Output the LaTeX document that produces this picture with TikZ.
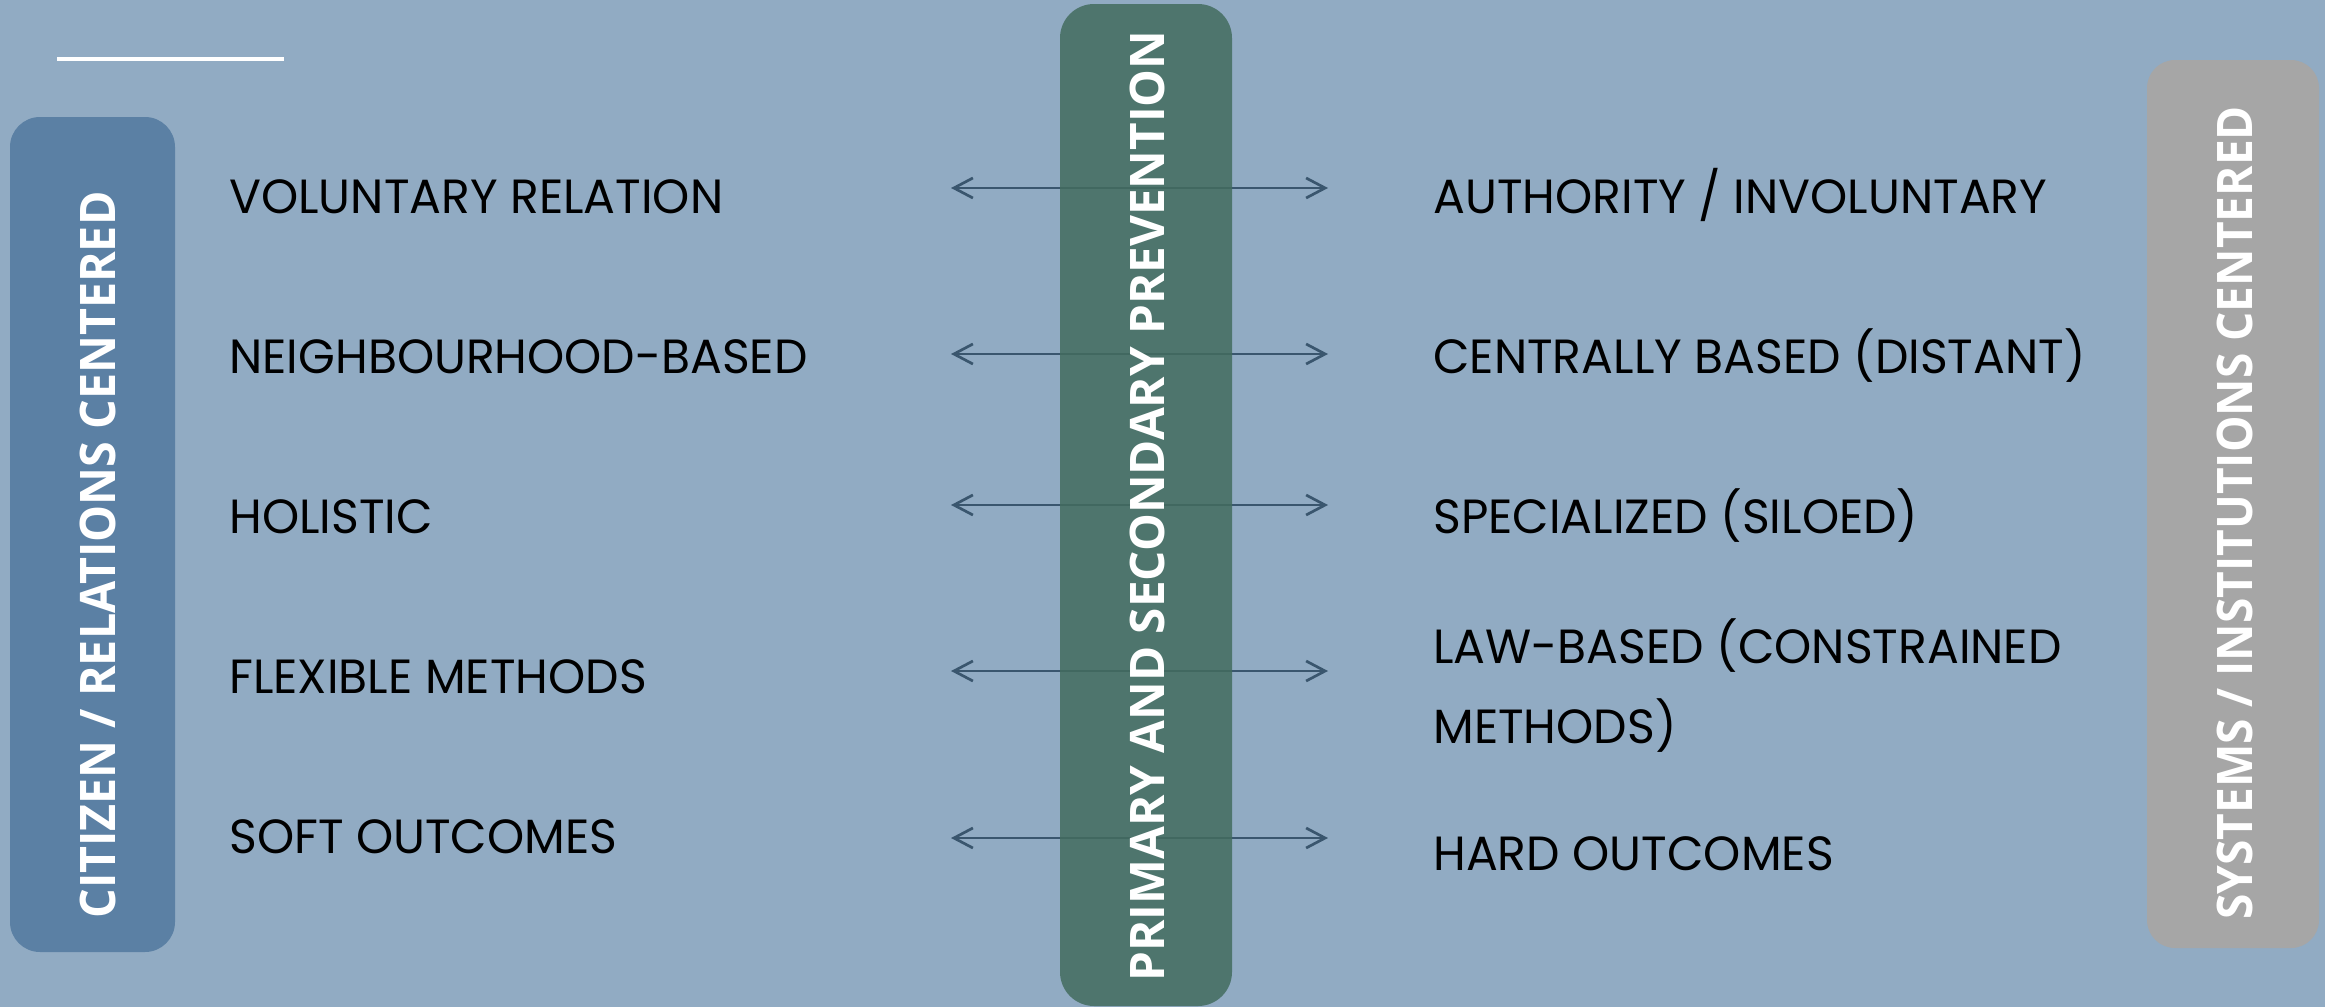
\documentclass[tikz,border=0pt]{standalone}
\usepackage{fontspec}
\usetikzlibrary{arrows.meta}
\newfontfamily\listfont{Poppins}[FakeStretch=0.985]
\newfontfamily\headfont{Open Sans}
\newfontfamily\headleftfont{Open Sans}[FakeStretch=0.951]
\newfontfamily\headrightfont{Open Sans}[FakeStretch=0.94]
\definecolor{bgc}{HTML}{91ABC3}
\definecolor{leftc}{HTML}{5B80A4}
\definecolor{midc}{HTML}{436C5E}
\definecolor{rightc}{HTML}{A6A6A6}
\definecolor{arrowc}{HTML}{3A566E}
\begin{document}
\begin{tikzpicture}[x=0.5pt,y=-0.5pt,
  item/.style={anchor=base west, inner sep=0pt, text=black, font=\listfont\fontsize{24}{28}\selectfont},
  vlabel/.style={rotate=90, inner sep=0pt, text=white, text height=17.5pt, text depth=0pt},
  panel/.style={inner sep=0pt, rounded corners=15pt},
  biarrow/.style={draw=arrowc, line width=1.35pt, {Straight Barb[length=9.5pt,width=10pt]}-{Straight Barb[length=9.5pt,width=10pt]}}
]
\useasboundingbox (0,0) rectangle (2325,1007);
\fill[bgc] (0,0) rectangle (2325,1007);
% top rule
\coordinate (ruleA) at (57,59);
\coordinate (ruleB) at (284,59);
\draw[white, line width=2pt] (ruleA) -- (ruleB);
% arrow end points
\foreach \i/\y in {1/188,2/354,3/505,4/671,5/838}{
  \coordinate (al\i) at (951,\y);
  \coordinate (ar\i) at (1328,\y);
  \draw[biarrow] (al\i) -- (ar\i);
}
% panels
\node[panel, fill=leftc, minimum width=82.5pt, minimum height=417.5pt] (leftbox) at (92.5,534.5) {};
\node[panel, fill=midc, fill opacity=0.85, rounded corners=17pt, minimum width=86pt, minimum height=501pt] (midbox) at (1146,505) {};
\node[panel, fill=rightc, rounded corners=14pt, minimum width=86pt, minimum height=444pt] (rightbox) at (2233,504) {};
% vertical labels
\node[vlabel, font=\headleftfont\bfseries\fontsize{24.5}{28}\selectfont] (leftlabel) at (97.5,555) {CITIZEN / RELATIONS CENTERED};
\node[vlabel, text height=17pt, font=\headfont\bfseries\fontsize{23.8}{28}\selectfont] (midlabel) at (1147,506) {PRIMARY AND SECONDARY PREVENTION};
\node[vlabel, font=\headrightfont\bfseries\fontsize{24.5}{28}\selectfont] (rightlabel) at (2234.5,513) {SYSTEMS / INSTITUTIONS CENTERED};
% left items
\node[item] (l1) at (229,213) {VOLUNTARY RELATION};
\node[item] (l2) at (229,373) {NEIGHBOURHOOD-BASED};
\node[item] (l3) at (229,533) {HOLISTIC};
\node[item] (l4) at (229,693) {FLEXIBLE METHODS};
\node[item] (l5) at (229,853) {SOFT OUTCOMES};
% right items
\node[item] (r1) at (1433,213) {AUTHORITY / INVOLUNTARY};
\node[item] (r2) at (1433,373) {CENTRALLY BASED (DISTANT)};
\node[item] (r3) at (1433,533) {SPECIALIZED (SILOED)};
\node[item] (r4a) at (1433,663) {LAW-BASED (CONSTRAINED};
\node[item] (r4b) at (1433,743) {METHODS)};
\node[item] (r5) at (1433,870) {HARD OUTCOMES};
\end{tikzpicture}
\end{document}
